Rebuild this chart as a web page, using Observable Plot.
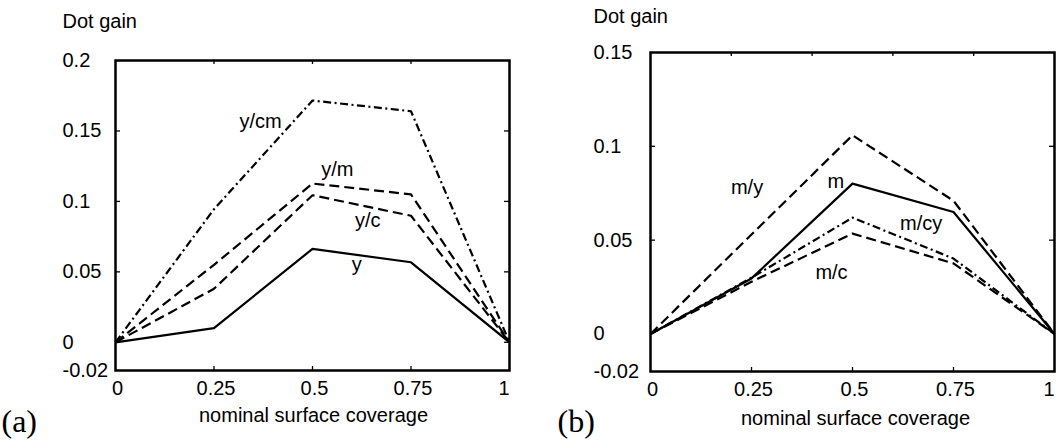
<!DOCTYPE html>
<html><head><meta charset="utf-8">
<script src="https://cdn.jsdelivr.net/npm/d3@7"></script>
<script src="https://cdn.jsdelivr.net/npm/@observablehq/plot@0.6"></script>
<style>
body{margin:0;background:#fff;}
#wrap{position:relative;width:1060px;height:443px;overflow:hidden;background:#fff;}
.panel{position:absolute;top:0;}
</style></head><body>
<div id="wrap"><div id="pa" class="panel" style="left:0"></div><div id="pb" class="panel" style="left:530px"></div></div>
<script>
// shared x values
const coverage = [0, 0.25, 0.5, 0.75, 1];

// panel (a): yellow ink
const gainY   = [0, 0.0101, 0.0663, 0.0568, 0];
const gainYC  = [0, 0.0380, 0.1044, 0.0898, 0];
const gainYM  = [0, 0.0550, 0.1127, 0.1050, 0];
const gainYCM = [0, 0.0945, 0.1716, 0.1640, 0];

// panel (b): magenta ink
const gainM   = [0, 0.0296, 0.0801, 0.0650, 0];
const gainMY  = [0, 0.0530, 0.1059, 0.0710, 0];
const gainMC  = [0, 0.0278, 0.0535, 0.0376, 0];
const gainMCY = [0, 0.0300, 0.0620, 0.0402, 0];

// series names (curve labels)
const namesA = ["y", "y/c", "y/m", "y/cm"];
const namesB = ["m", "m/y", "m/c", "m/cy"];
// label anchor points in data units
const labelXA = [0.612, 0.640, 0.563, 0.368];
const labelYA = [0.0554, 0.0864, 0.1225, 0.1566];
const labelXB = [0.459, 0.239, 0.448, 0.670];
const labelYB = [0.0814, 0.0780, 0.0329, 0.0586];

// tick values
const xTickLabels = [0, 0.25, 0.5, 0.75, 1];
const yTicksA = [-0.02, 0, 0.05, 0.1, 0.15, 0.2];
const yTicksB = [-0.02, 0, 0.05, 0.1, 0.15];
const innerYTicksA = [0, 0.05, 0.1, 0.15];
const innerYTicksB = [0.05, 0.1];
const bottomTicks = [0.25, 0.5, 0.75];
const topTicksA = [0.25, 0.5, 0.75];
const topTicksB = [0.2, 0.4, 0.6, 0.8];

const FONT = "'Liberation Sans', Arial, Helvetica, sans-serif";
const SERIF = "'Liberation Serif', 'Times New Roman', serif";
const DASH = "10,5";
const DASHDOT = "8,3.5,2,3.5";

function rows(vals) { return coverage.map((x, i) => ({x, y: vals[i]})); }

function panel(o) {
  const innerW = o.width - o.ml - o.mr;
  const innerH = o.height - o.mt - o.mb;
  const lines = o.series.map(s => Plot.line(rows(s.vals), {
    x: "x", y: "y", stroke: "black", strokeWidth: 2.2,
    strokeDasharray: s.dash, strokeLinecap: "butt", strokeLinejoin: "miter"
  }));
  const labelRows = o.names.map((n, i) => ({n, x: o.lx[i], y: o.ly[i]}));
  return Plot.plot({
    width: o.width, height: o.height,
    marginLeft: o.ml, marginRight: o.mr, marginTop: o.mt, marginBottom: o.mb,
    x: {domain: [0, 1], axis: null},
    y: {domain: o.yDomain, axis: null},
    style: {fontFamily: FONT, fontSize: "20px", color: "black", background: "white", overflow: "visible"},
    marks: [
      ...lines,
      Plot.text(labelRows, {x: "x", y: "y", text: "n", fill: "black", lineAnchor: "middle", fontSize: 20}),
      Plot.tickY(o.innerY, {y: d => d, stroke: "black", strokeWidth: 1.3, insetRight: innerW - 5}),
      Plot.tickY(o.innerY, {y: d => d, stroke: "black", strokeWidth: 1.3, insetLeft: innerW - 5}),
      Plot.tickX(bottomTicks, {x: d => d, stroke: "black", strokeWidth: 1.3, insetTop: innerH - 4}),
      Plot.tickX(o.topTicks, {x: d => d, stroke: "black", strokeWidth: 1.3, insetBottom: innerH - 4}),
      Plot.frame({stroke: "black", strokeWidth: 2.5}),
      Plot.axisY({ticks: o.yTicks, tickFormat: d => String(d), tickSize: 0, tickPadding: 0,
        textAnchor: "start", dx: o.ylDx, label: null, fontSize: 20}),
      Plot.axisX({ticks: xTickLabels.slice(0, 4), tickFormat: d => String(d), tickSize: 0, tickPadding: 10, dx: 2, label: null, fontSize: 20}),
      Plot.axisX({ticks: xTickLabels.slice(4), tickFormat: d => String(d), tickSize: 0, tickPadding: 10, textAnchor: "end", label: null, fontSize: 20}),
      Plot.text(["nominal surface coverage"], {text: d => d, frameAnchor: "bottom", dx: o.titleDx, dy: o.titleDy, lineAnchor: "bottom", fill: "black", fontSize: 20}),
      Plot.text(["Dot gain"], {text: d => d, frameAnchor: "top-left", dx: o.ylDx, dy: o.dgDy, textAnchor: "start", lineAnchor: "bottom", fill: "black", fontSize: 20}),
      Plot.text([o.tag], {text: d => d, frameAnchor: "bottom-left", dx: o.tagDx, dy: o.tagDy, textAnchor: "start", lineAnchor: "bottom", fontFamily: SERIF, fontSize: 32, fill: "black"})
    ]
  });
}

document.getElementById("pa").append(panel({
  width: 530, height: 443, ml: 115, mr: 21, mt: 60, mb: 73,
  yDomain: [-0.02, 0.2], yTicks: yTicksA, innerY: innerYTicksA, topTicks: topTicksA,
  series: [
    {vals: gainY, dash: null},
    {vals: gainYC, dash: DASH},
    {vals: gainYM, dash: DASH},
    {vals: gainYCM, dash: DASHDOT}
  ],
  names: namesA, lx: labelXA, ly: labelYA,
  ylDx: -53, dgDy: -33, titleDx: 1, titleDy: 51, tag: "(a)", tagDx: -114, tagDy: 61
}));

document.getElementById("pb").append(panel({
  width: 530, height: 443, ml: 120, mr: 6, mt: 52, mb: 72,
  yDomain: [-0.02, 0.15], yTicks: yTicksB, innerY: innerYTicksB, topTicks: topTicksB,
  series: [
    {vals: gainM, dash: null},
    {vals: gainMY, dash: DASH},
    {vals: gainMC, dash: DASH},
    {vals: gainMCY, dash: DASHDOT}
  ],
  names: namesB, lx: labelXB, ly: labelYB,
  ylDx: -57, dgDy: -30, titleDx: 3, titleDy: 53, tag: "(b)", tagDx: -93, tagDy: 60
}));
</script>
</body></html>
